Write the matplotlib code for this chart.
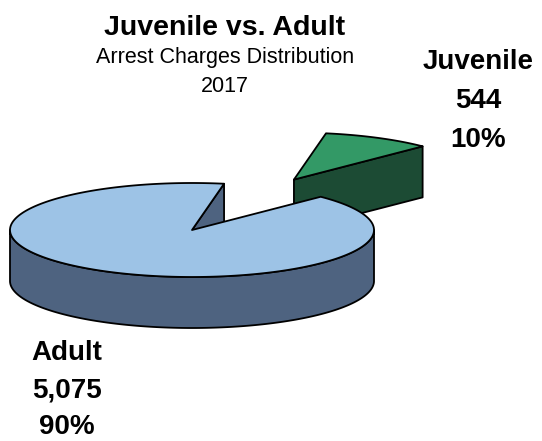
import numpy as np
import matplotlib
matplotlib.use("Agg")
import matplotlib.pyplot as plt
from matplotlib.patches import Polygon

GROUPS = ["Juvenile", "Adult"]
CHARGES = [544, 5075]
TOP_COLORS = ["#339966", "#9DC3E6"]
SIDE_COLORS = ["#1C4B34", "#4E6380"]

TITLE = "Juvenile vs. Adult"
SUBTITLE = "Arrest Charges Distribution"
YEAR = "2017"

# pie geometry in pixel units (y grows downward)
CX, CY = 192, 230
RX, RY = 182, 47
DEPTH = 51
START_DEG = 45
EXPLODE = [1.21, 0.0]

FONT = "Liberation Sans"


def rim(t, cx, cy):
    return cx + RX * np.cos(t), cy - RY * np.sin(t)


def draw_slice(ax, t0, t1, cx, cy, top_color, side_color):
    lw = 1.3
    # radial faces that turn toward the viewer
    for t, visible in ((t0, np.cos(t0) > 0), (t1, np.cos(t1) < 0)):
        if not visible:
            continue
        rx, ry = rim(t, cx, cy)
        quad = [(cx, cy), (rx, ry), (rx, ry + DEPTH), (cx, cy + DEPTH)]
        ax.add_patch(Polygon(quad, closed=True, facecolor=side_color,
                             edgecolor="black", lw=lw, joinstyle="round"))

    # curved outer wall on the front half
    for k in range(-1, 3):
        lo = max(t0, np.pi + 2 * np.pi * k)
        hi = min(t1, 2 * np.pi + 2 * np.pi * k)
        if hi <= lo:
            continue
        ts = np.linspace(lo, hi, 200)
        xs, ys = rim(ts, cx, cy)
        pts = list(zip(xs, ys)) + list(zip(xs[::-1], ys[::-1] + DEPTH))
        ax.add_patch(Polygon(pts, closed=True, facecolor=side_color,
                             edgecolor="black", lw=lw, joinstyle="round"))

    # top face
    ts = np.linspace(t0, t1, 300)
    xs, ys = rim(ts, cx, cy)
    pts = [(cx, cy)] + list(zip(xs, ys))
    ax.add_patch(Polygon(pts, closed=True, facecolor=top_color,
                         edgecolor="black", lw=lw, joinstyle="round"))


def main():
    fig = plt.figure(figsize=(5.42, 4.41), dpi=100)
    ax = fig.add_axes([0, 0, 1, 1])
    ax.set_xlim(0, 542)
    ax.set_ylim(441, 0)
    ax.axis("off")

    total = sum(CHARGES)
    angles = []
    start = np.deg2rad(START_DEG)
    for n in CHARGES:
        sweep = 2 * np.pi * n / total
        angles.append((start, start + sweep))
        start += sweep

    # juvenile sits behind the adult slice, so draw it first
    for i in range(len(CHARGES)):
        t0, t1 = angles[i]
        mid = (t0 + t1) / 2
        cx = CX + EXPLODE[i] * RX * np.cos(mid)
        cy = CY - EXPLODE[i] * RY * np.sin(mid)
        draw_slice(ax, t0, t1, cx, cy, TOP_COLORS[i], SIDE_COLORS[i])

    ax.text(225, 35, TITLE, ha="center", va="baseline", fontsize=20.5,
            fontweight="bold", family=FONT)
    ax.text(225, 63, SUBTITLE, ha="center", va="baseline", fontsize=15.5,
            family=FONT)
    ax.text(225, 92, YEAR, ha="center", va="baseline", fontsize=15.5,
            family=FONT)

    label_pos = [(478, 69, 39), (67, 360, 37)]
    for i, name in enumerate(GROUPS):
        x, y, step = label_pos[i]
        pct = round(100 * CHARGES[i] / total)
        lines = [name, f"{CHARGES[i]:,}", f"{pct}%"]
        for j, s in enumerate(lines):
            ax.text(x, y + step * j, s, ha="center", va="baseline",
                    fontsize=20, fontweight="bold", family=FONT)

    fig.savefig("out.png", dpi=100)
    plt.close(fig)


if __name__ == "__main__":
    main()
